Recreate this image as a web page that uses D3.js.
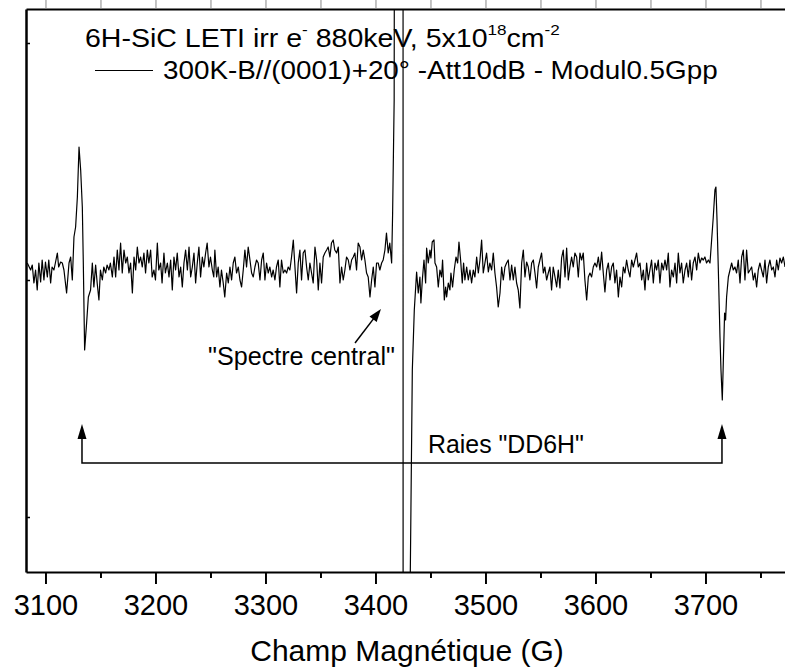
<!DOCTYPE html>
<html><head><meta charset="utf-8">
<script src="https://cdn.jsdelivr.net/npm/d3@7/dist/d3.min.js"></script>
<style>
html,body{margin:0;padding:0;background:#fff;}
svg{display:block;font-family:"Liberation Sans",Arial,sans-serif;}
text{white-space:pre;}
</style></head>
<body>
<svg id="chart" width="785" height="668"></svg>
<script>
// Magnetic field (G)
const fieldG = [
3083.5,3086.5,3088,3089.5,3091,3092.5,3094,3095.6,3097,3098.6,3100,3101.7,3103,3104.7,3106,3107.7,3109,3110.8,3112,3113.8,
3115.3,3116.8,3119.2,3121.4,3122.9,3124.4,3125.9,3127.4,3129,3130.5,3132,3133.5,3134.4,3135.6,3137.4,3139,3141,3142.6,3144,3145.6,
3147,3148.6,3150,3151.7,3153,3154.7,3156,3157.7,3159,3160.8,3162.3,3163.8,3165.3,3166.8,3168.3,3169.8,3171.4,3172.9,3174.4,3175.9,
3177.4,3179,3180.5,3182,3183.5,3185,3186.5,3188,3189.5,3191,3192.6,3194,3195.6,3197,3198.6,3200,3201.7,3203,3204.7,3206,
3207.7,3209,3210.8,3212.3,3213.8,3215.3,3216.8,3218.3,3219.8,3221.4,3222.9,3224.4,3225.9,3227.4,3229,3230.5,3232,3233.5,3235,3236.5,
3238,3239.5,3241,3242.6,3244,3245.6,3247,3248.6,3250,3251.7,3253,
3254,3255.6,3257,3258.6,3260,3261.6,3263,3264.7,3266.2,3267.7,3269.2,3270.7,3272.2,3273.7,3275.3,3276.8,3278.3,3279.8,3281.3,3282.8,
3284.3,3285.9,3287.4,3288.9,3290.4,3291.9,3293.4,3295,3296.5,3298,3299.5,3301,3302.5,3304,3305.6,3307,3308.6,3310,3311.6,3313.1,
3314.6,3316.2,3317.7,3319.2,3320.7,3322.2,3323.7,3325.3,3326.8,3328.3,3329.8,3331.3,3332.8,3334.3,3335.9,3337.4,3338.9,3340.4,3341.9,3343.4,
3345,3346.5,3348,3349.5,3351,3352.5,3354,3355.6,3357,3358.6,3360,3361.6,3363,3364.7,3366.2,3367.7,3369.2,3370.7,3372.2,3373.7,
3375.3,3376.8,3378.3,3379.8,3381.3,3382.8,3384.3,3385.9,3387.4,3388.9,3390.4,3391.9,3393.4,3395,3396.5,3398,3399.5,3401,3402.5,3404,
3405.6,3407,3408.6,3410,3411.6,3413,3414.7,3415.6,
3416,3417,3418.5,3425,3425.2,3431,3431.6,3433.5,
3435.3,3437.4,3438.9,3440.4,3441.3,3442.6,3444.1,3445.6,3446.5,3448,3449.5,3450.4,3451.6,3453.2,3454.1,3455.6,3457.1,3458.6,3460.1,3461,
3462.6,3463.8,3464.7,3466.2,3467.7,3468.6,3470.1,3471.6,3473.2,3474.7,3475.9,3477.4,3478.9,3480.1,3481.3,3482.9,3484.4,3485.9,3487.4,3488.9,
3490.4,3492,3493.5,3495,3496.5,3498,3499.5,3501,3502.6,3504,3505.6,3507.1,3508.6,3510.1,3511.6,3513.2,3514.7,3516.2,3517.7,3519.2,
3520.7,3522.3,3523.8,3525.3,3526.8,3528.3,3529.8,3531.3,3532.9,3534.4,3535.9,3537.4,3538.9,3540.4,3542,3543.5,3545,3546.5,3548,3549.5,
3551,3552.6,3554,3555.6,3557.1,3558.6,3560.1,3561.6,3563.2,3564.7,3566.2,3567.7,3569.2,3570.7,3572.3,3573.8,3575.3,3576.8,3578.3,3579.8,
3581.3,3582.9,3584.4,3585.9,3587.4,3588.9,3590.4,3592,3593.5,3595,3596.5,3598,3599.5,
3601.1,3602.6,3604.1,3605.6,3607.1,3608.6,3610.2,3611.7,3613.2,3614.7,3616.2,3617.7,3619.2,3620.8,3622.3,3623.8,3625.3,3626.8,3628.3,3629.8,
3631.4,3632.9,3634.4,3635.9,3637.4,3638.9,3640.5,3642,3643.5,3645,3646.5,3648,3649.5,3651,3652.6,3654.1,3655.6,3657.1,3658.6,3660.2,
3661.7,3663.2,3664.7,3666.2,3667.7,3669.2,3670.8,3672.3,3673.8,3675.3,3676.8,3678.3,3679.8,3681.4,3682.9,3684.4,3685.9,3687.4,3688.9,3690.5,
3692,3693.5,3695,3696.5,3698,3699.5,3701,3702.6,3704.1,3705.6,3707.1,3708.6,3709.5,3710.5,3711.7,3713.2,3714.1,3715.3,3716.2,3717.4,
3718.3,3719.2,3720.8,3722.3,3723.8,3725.3,3726.8,3728.3,3729.8,3731.4,3732.9,3734.4,3735.9,3737.4,3738.9,3740.5,3742,3743.5,3745,3746.5,
3748,3749.5,3751,3752.6,3754.1,3755.6,3757.1,3758.6,3760.2,3761.7,3763.2,3764.7,3766.2,3767.7,3769.2,3770.8,3772.3
];
// EPR signal (arbitrary units)
const signal = [
17,10,15,-3,10,-10,17,-2,20,0,18,3,20,-3,13,10,17,27,13,18,
17,10,-13,17,23,0,43,53,83,133,110,73,17,-70,-43,-17,-10,17,-7,15,
-3,-20,10,0,13,7,15,10,17,3,23,3,30,10,37,7,30,17,23,7,
17,-13,23,10,33,17,23,13,27,7,30,17,30,3,10,0,37,10,17,-3,
27,7,17,3,20,-10,23,10,27,3,13,-7,17,30,10,33,3,13,27,-3,
17,33,3,23,13,27,37,13,23,10,3,
30,3,13,-7,10,-3,-17,7,-3,13,0,17,23,7,13,0,-7,10,30,13,
33,20,7,3,13,20,17,0,20,27,0,17,7,13,3,10,0,13,20,-7,
20,7,10,7,13,10,23,40,13,-13,17,30,0,27,30,13,0,17,7,-3,
33,20,-10,17,-3,23,27,30,33,23,37,40,30,27,33,-3,13,0,10,23,
20,10,20,23,27,10,37,33,20,30,20,7,3,-17,0,13,-7,17,17,10,
17,20,30,47,27,37,17,67,
100,180,1500,1500,-1500,-1500,-300,-90,
-30,8,-13,3,-23,0,20,-3,32,17,30,22,38,40,17,13,-7,10,3,20,
-20,-7,-17,-3,-10,7,-7,10,23,17,38,20,-3,17,0,13,0,10,-3,10,
3,23,7,20,40,7,17,27,8,17,10,27,7,-7,-27,-13,13,0,13,17,
20,0,15,0,13,-3,-10,-28,17,30,3,18,13,0,17,20,7,-8,13,20,
27,7,13,0,7,13,-10,13,3,-7,10,-8,22,30,3,32,0,13,23,13,
27,23,3,27,20,27,0,-20,3,7,3,13,17,
13,23,10,28,7,-12,10,17,0,13,17,-3,10,-17,3,-7,13,7,20,10,
3,20,13,20,27,13,17,0,10,-10,17,0,10,20,-3,17,10,20,-3,17,
10,20,10,27,-7,10,3,17,-3,27,7,17,-3,10,17,3,20,0,17,23,
10,27,17,22,20,23,17,20,17,40,63,90,93,60,10,-57,-90,-120,-83,-33,
-40,-17,3,10,17,10,13,7,20,-3,23,30,0,30,7,10,13,0,7,-7,
10,17,10,3,20,-3,13,20,10,13,3,20,10,22,17,23,13
];
const majorTicks = [3100,3200,3300,3400,3500,3600,3700];
const minorTicks = [3150,3250,3350,3450,3550,3650,3750];
const yTicks = [-237,0,237];
const bracketG = [3133.2,3715];      // "DD6H" line positions
const bracketLevel = -183, bracketTip = -144;
const centralArrow = {from:[3381.4,-63], to:[3405,-29]};

const svg = d3.select("#chart");
const W = 785, H = 668;
const pLeft = 26, pTop = 9, pBottom = 572;
const x = d3.scaleLinear().domain([3082.3, 3800]).range([pLeft, pLeft + (3800-3082.3)*1.1]);
const y = d3.scaleLinear().domain([-292, 271]).range([pBottom, pTop]);

svg.append("rect").attr("width",W).attr("height",H).attr("fill","#fff");

svg.append("defs").append("clipPath").attr("id","clip")
  .append("rect").attr("x",pLeft).attr("y",pTop).attr("width",x.range()[1]-pLeft).attr("height",pBottom-pTop);

const data = fieldG.map((g,i)=>({g, v:signal[i]}));
svg.append("path").datum(data)
  .attr("clip-path","url(#clip)")
  .attr("fill","none").attr("stroke","#000").attr("stroke-width",1.2)
  .attr("stroke-linejoin","round")
  .attr("d", d3.line().x(d=>x(d.g)).y(d=>y(d.v)));

// axes
const fs = 29;
const gB = svg.append("g").attr("transform",`translate(0,${pBottom})`)
  .call(d3.axisBottom(x).tickValues(majorTicks).tickSize(12).tickSizeOuter(0).tickPadding(10).tickFormat(d3.format("d")));
gB.select(".domain").attr("stroke-width",2);
gB.selectAll(".tick line").attr("stroke-width",2);
gB.selectAll("text").attr("font-size",fs).attr("font-family","Liberation Sans, Arial, sans-serif").attr("fill","#000");
const gBm = svg.append("g").attr("transform",`translate(0,${pBottom})`)
  .call(d3.axisBottom(x).tickValues(minorTicks).tickSize(6).tickSizeOuter(0).tickFormat(""));
gBm.select(".domain").remove();
gBm.selectAll(".tick line").attr("stroke-width",2);

const gT = svg.append("g").attr("transform",`translate(0,${pTop})`)
  .call(d3.axisTop(x).tickValues(majorTicks.concat(minorTicks)).tickSize(9).tickSizeOuter(0).tickFormat(""));
gT.select(".domain").attr("stroke-width",2);
gT.selectAll(".tick line").attr("stroke","#888").attr("stroke-width",1);

const gL = svg.append("g").attr("transform",`translate(${pLeft},0)`)
  .call(d3.axisLeft(y).tickValues(yTicks).tickSize(-4).tickSizeOuter(0).tickFormat(""));
gL.select(".domain").attr("stroke-width",2.5);
gL.selectAll(".tick line").attr("stroke-width",1.5);

// axis title
svg.append("text").attr("x",407).attr("y",661).attr("text-anchor","middle")
  .attr("font-size",30).attr("fill","#000").text("Champ Magnétique (G)");

function fitWidth(sel, target){
  const b = sel.node().getBBox();
  const s = target / b.width;
  sel.attr("transform",`translate(${b.x},0) scale(${s},1) translate(${-b.x},0)`);
}

// title lines
const t1 = svg.append("text").attr("x",85).attr("y",47).attr("font-size",25).attr("fill","#000");
t1.append("tspan").text("6H-SiC LETI irr e");
t1.append("tspan").attr("dy",-12).attr("font-size",15).text("-");
t1.append("tspan").attr("dy",12).text(" 880keV, 5x10");
t1.append("tspan").attr("dy",-12).attr("font-size",15).text("18");
t1.append("tspan").attr("dy",12).text("cm");
t1.append("tspan").attr("dy",-12).attr("font-size",15).text("-2");
fitWidth(t1, 475);

svg.append("line").attr("x1",95).attr("x2",153).attr("y1",70.5).attr("y2",70.5)
  .attr("stroke","#000").attr("stroke-width",1.2);
const t2 = svg.append("text").attr("x",163).attr("y",79).attr("font-size",25).attr("fill","#000")
  .text("300K-B//(0001)+20° -Att10dB - Modul0.5Gpp");
fitWidth(t2, 555);

// arrowhead helper
function arrowHead(tx, ty, angle, len, half){
  const bx = tx - len*Math.cos(angle), by = ty - len*Math.sin(angle);
  const px = -Math.sin(angle)*half, py = Math.cos(angle)*half;
  return `M${tx},${ty}L${bx+px},${by+py}L${bx-px},${by-py}Z`;
}

// "Spectre central" annotation
const ax1 = x(centralArrow.from[0]), ay1 = y(centralArrow.from[1]);
const ax2 = x(centralArrow.to[0]), ay2 = y(centralArrow.to[1]);
const ang = Math.atan2(ay2-ay1, ax2-ax1);
svg.append("line").attr("x1",ax1).attr("y1",ay1)
  .attr("x2",ax2-8*Math.cos(ang)).attr("y2",ay2-8*Math.sin(ang))
  .attr("stroke","#000").attr("stroke-width",1.5);
svg.append("path").attr("d",arrowHead(ax2,ay2,ang,13,4.5)).attr("fill","#000");
const t3 = svg.append("text").attr("x",208).attr("y",365).attr("font-size",25).attr("fill","#000")
  .text('"Spectre central"');
fitWidth(t3, 187);

// DD6H bracket
const bl = y(bracketLevel), bt = y(bracketTip);
svg.append("path")
  .attr("d",`M${x(bracketG[0])},${bt+10}L${x(bracketG[0])},${bl}L${x(bracketG[1])},${bl}L${x(bracketG[1])},${bt+10}`)
  .attr("fill","none").attr("stroke","#000").attr("stroke-width",1.5);
bracketG.forEach(g=>{
  svg.append("path").attr("d",arrowHead(x(g),bt,-Math.PI/2,15,4.5)).attr("fill","#000");
});
const t4 = svg.append("text").attr("x",428).attr("y",453).attr("font-size",25).attr("fill","#000")
  .text('Raies "DD6H"');
fitWidth(t4, 156);
</script>
</body></html>
